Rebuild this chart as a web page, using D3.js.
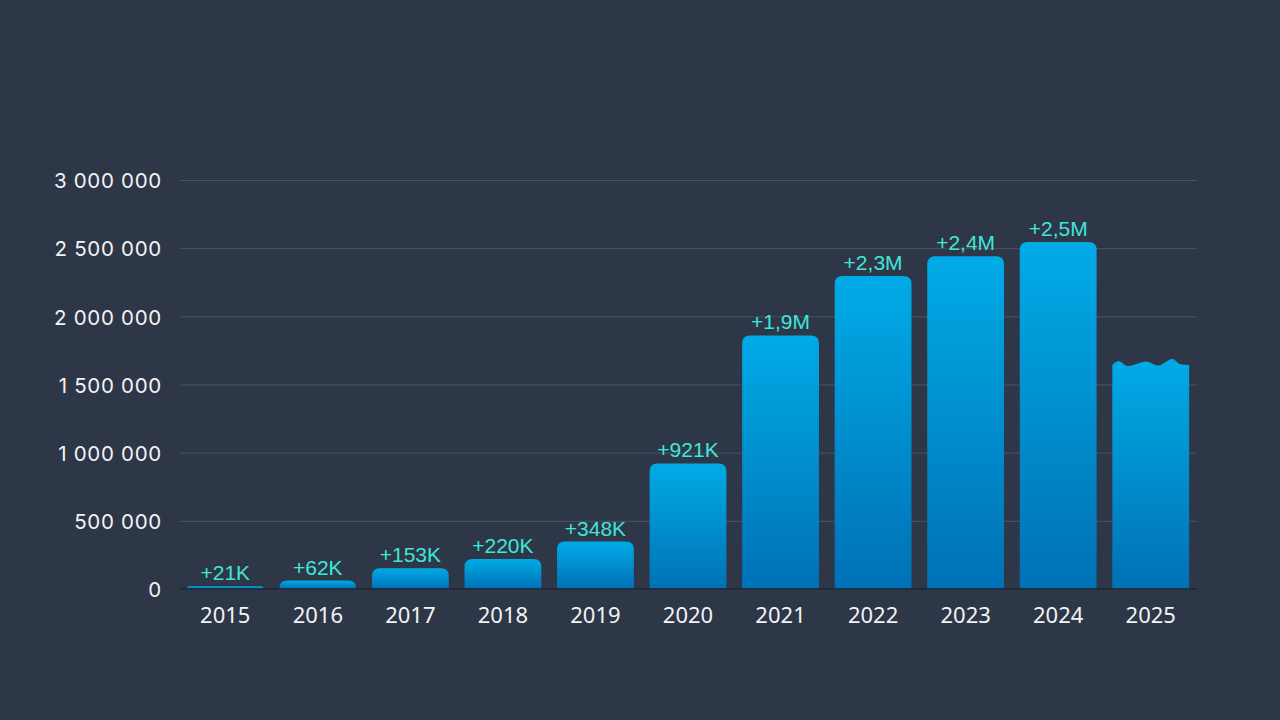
<!DOCTYPE html>
<html>
<head>
<meta charset="utf-8">
<script src="https://cdn.jsdelivr.net/npm/d3@7"></script>
<style>
  html, body { margin: 0; padding: 0; background: #2e3747; }
  svg { display: block; }
</style>
</head>
<body>
<div id="chart"></div>
<script>
var years = ['2015', '2016', '2017', '2018', '2019', '2020', '2021', '2022', '2023', '2024', '2025'];
var values = [21000, 62000, 153000, 220000, 348000, 921000, 1860000, 2295000, 2440000, 2545000, 1650000];
var labels = ['+21K', '+62K', '+153K', '+220K', '+348K', '+921K', '+1,9M', '+2,3M', '+2,4M', '+2,5M', ''];
var yTicks = [0, 500000, 1000000, 1500000, 2000000, 2500000, 3000000];
var partialYear = '2025';

var svgWidth = 1280,
    svgHeight = 720,
    margin = { top: 180, right: 83, bottom: 131, left: 180 },
    width = svgWidth - margin.left - margin.right,
    height = svgHeight - margin.top - margin.bottom;

var data = years.map(function (d, i) {
    return { year: d, value: values[i], label: labels[i] };
});

var svg = d3.select('#chart').append('svg')
    .attr('width', svgWidth)
    .attr('height', svgHeight);

svg.append('rect')
    .attr('width', svgWidth)
    .attr('height', svgHeight)
    .attr('fill', '#2e3747');

var defs = svg.append('defs');
var grad = defs.append('linearGradient')
    .attr('id', 'bar-grad')
    .attr('x1', 0).attr('y1', 0)
    .attr('x2', 0).attr('y2', 1);
grad.append('stop').attr('offset', '0%').attr('stop-color', '#00abe6');
grad.append('stop').attr('offset', '100%').attr('stop-color', '#0071b6');

var g = svg.append('g')
    .attr('transform', 'translate(' + margin.left + ',' + margin.top + ')');

var x = d3.scaleBand()
    .domain(years)
    .range([-1, width])
    .paddingInner(0.17)
    .paddingOuter(0.085);

var y = d3.scaleLinear()
    .domain([0, 3000000])
    .range([height, 0]);

// grid + y labels
var yAxis = d3.axisLeft(y)
    .tickValues(yTicks)
    .tickSize(-width)
    .tickPadding(18)
    .tickFormat(function (d) { return d3.format(',')(d).replace(/,/g, ' '); });

var ya = g.append('g')
    .attr('class', 'y axis')
    .call(yAxis);
ya.select('.domain').remove();
ya.selectAll('.tick line')
    .attr('stroke', '#4a5365')
    .attr('stroke-width', 1);
ya.selectAll('.tick text')
    .attr('fill', '#f2f4f7')
    .attr('dy', '0.38em')
    .style('font-family', 'Inter, "Noto Sans", sans-serif')
    .style('font-size', '20.5px')
    .style('letter-spacing', '0.7px');

// bars
function barPath(d) {
    var x0 = x(d.year),
        w = x.bandwidth(),
        yb = y(0),
        yt = y(d.value),
        h = yb - yt,
        r = Math.min(8, h, w / 2);
    if (d.year === partialYear) {
        // wavy top for the unfinished year
        var wave = [[0, 1], [0.08, -3], [0.2, 2], [0.44, -2.5], [0.6, 1.5], [0.78, -5], [0.88, 0], [1, 1]];
        var pts = wave.map(function (p) { return [x0 + p[0] * w, yt + p[1]]; });
        var top = d3.line().curve(d3.curveCatmullRom.alpha(0.5))(pts);
        return 'M' + x0 + ',' + yb + 'L' + pts[0][0] + ',' + pts[0][1] +
            top.replace(/^M[^C]*/, '') +
            'L' + (x0 + w) + ',' + yb + 'Z';
    }
    return 'M' + x0 + ',' + yb +
        'L' + x0 + ',' + (yt + r) +
        'Q' + x0 + ',' + yt + ' ' + (x0 + r) + ',' + yt +
        'L' + (x0 + w - r) + ',' + yt +
        'Q' + (x0 + w) + ',' + yt + ' ' + (x0 + w) + ',' + (yt + r) +
        'L' + (x0 + w) + ',' + yb + 'Z';
}

g.append('g')
    .attr('class', 'bars')
    .selectAll('path')
    .data(data)
    .enter()
    .append('path')
    .attr('d', barPath)
    .attr('fill', 'url(#bar-grad)');

// value labels
g.append('g')
    .attr('class', 'labels')
    .selectAll('text')
    .data(data)
    .enter()
    .append('text')
    .attr('x', function (d) { return x(d.year) + x.bandwidth() / 2; })
    .attr('y', function (d) { return y(d.value) - 6; })
    .attr('text-anchor', 'middle')
    .attr('fill', '#3fe6da')
    .style('font-family', '"Liberation Sans", Arial, sans-serif')
    .style('font-size', '21px')
    .text(function (d) { return d.label; });

// x axis
var xAxis = d3.axisBottom(x)
    .tickSize(0)
    .tickPadding(0);

var xa = g.append('g')
    .attr('class', 'x axis')
    .attr('transform', 'translate(0,' + height + ')')
    .call(xAxis);
xa.select('.domain')
    .attr('d', 'M0,0H' + width)
    .attr('stroke', '#1b202a')
    .attr('stroke-width', 1.5);
xa.selectAll('.tick text')
    .attr('y', 34)
    .attr('dy', 0)
    .attr('fill', '#f2f4f7')
    .style('font-family', '"Noto Sans", "Open Sans", sans-serif')
    .style('font-size', '22px');
</script>
</body>
</html>
